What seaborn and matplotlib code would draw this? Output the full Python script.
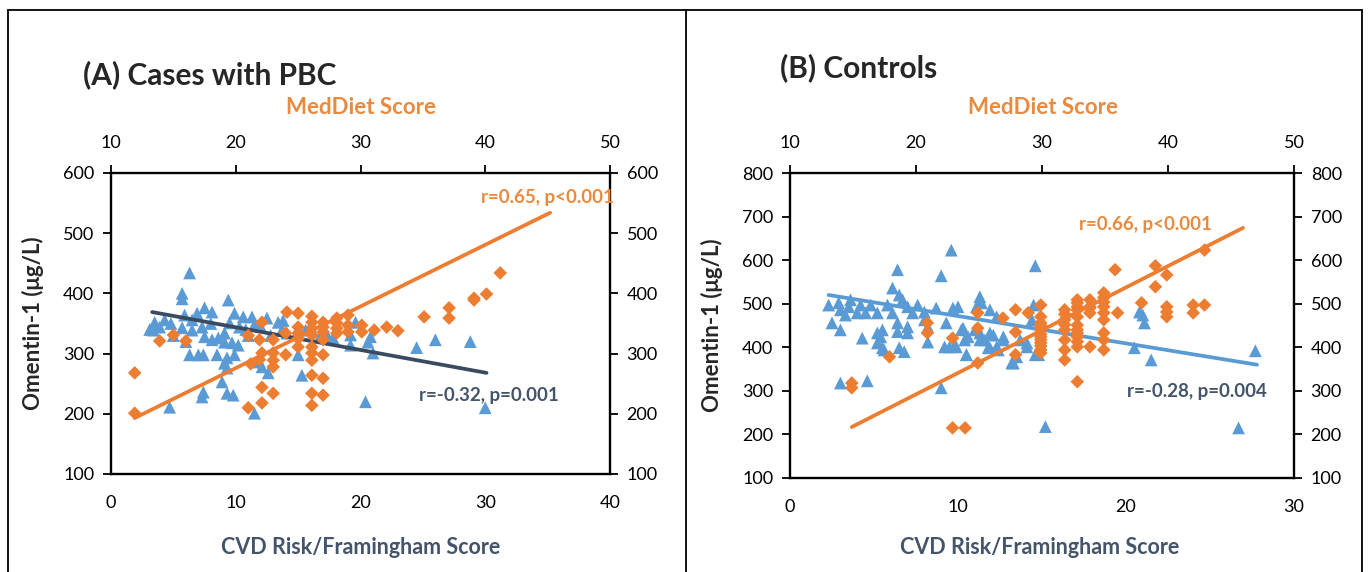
import numpy as np
import pandas as pd
import matplotlib
matplotlib.use("Agg")
import matplotlib.pyplot as plt
from matplotlib.lines import Line2D
import seaborn as sns

# ---------------- data ----------------
# Panel A (cases with PBC)
a_cvd = [3.4, 3.5, 3.9, 4.3, 3.1, 4.7, 5.7, 5.7, 5.7, 5.9, 6.3, 6.5, 6.5, 6.9, 7.3, 6.3, 7.0, 7.4,
         7.5, 8.1, 7.5, 8.1, 8.6, 9.1, 7.4, 7.3, 8.5, 8.9, 9.3, 9.9, 9.1, 9.3, 9.3, 9.8, 9.4, 9.9,
         10.6, 11.3, 9.5, 10.3, 9.7, 10.2, 9.1, 11.5, 12.6, 12.5, 13.4, 13.7, 12.1, 11.9, 13.8, 14.1,
         14.9, 15.6, 15.0, 15.3, 16.8, 17.4, 17.8, 19.2, 19.2, 19.6, 20.6, 20.8, 21.0, 20.4, 24.5,
         26.0, 28.8, 30.0, 11.0, 10.8, 12.0, 6.0, 8.0, 5.0, 4.8, 11.5, 12.8, 16.0]
a_om_cvd = [339, 352, 344, 356, 340, 211, 400, 391, 343, 364, 434, 356, 339, 367, 344, 298, 298, 298,
            376, 369, 328, 323, 326, 334, 236, 228, 298, 253, 293, 298, 284, 276, 234, 231, 389, 367,
            361, 361, 351, 344, 318, 314, 319, 201, 268, 359, 352, 339, 278, 286, 355, 334,
            334, 339, 298, 264, 331, 328, 326, 314, 331, 352, 319, 328, 301, 220, 310,
            323, 320, 210, 330, 340, 345, 320, 350, 330, 350, 348, 330, 345]
a_med = [11.9, 11.9, 13.9, 15.0, 16.0, 21.0, 22.1, 21.9, 22.1, 21.9, 21.2, 23.0, 23.0, 23.0, 23.0,
         22.1, 23.0, 22.1, 21.0, 24.1, 24.0, 24.0, 25.0, 25.0, 25.0, 25.0, 25.0,
         26.1, 26.1, 26.1, 26.1, 26.1, 26.1, 26.1, 26.1, 26.1, 26.1,
         27.0, 27.0, 27.0, 27.0, 27.0, 27.0, 27.0, 28.1, 28.1, 28.1, 28.1,
         29.0, 29.0, 29.0, 30.1, 30.1, 31.1, 32.1, 33.0, 35.1, 37.1, 37.1, 39.1, 39.1, 40.1, 41.2]
a_om_med = [268, 201, 321, 331, 321, 330, 352, 323, 301, 290, 283, 323, 301, 289, 278,
            244, 234, 218, 210, 369, 334, 298, 367, 344, 334, 311, 325,
            362, 352, 342, 331, 311, 301, 289, 264, 234, 214,
            352, 344, 336, 323, 298, 259, 231, 359, 351, 342, 334,
            364, 347, 336, 347, 336, 339, 344, 338, 361, 376, 359, 392, 389, 399, 434]
a_fit_cvd_x = [3.3, 30.1]
a_fit_cvd_y = [369, 268]
a_fit_med_x = [11.9, 45.2]
a_fit_med_y = [193, 534]

# Panel B (controls)
b_cvd = [2.3, 2.9, 3.0, 3.6, 3.5, 4.2, 4.8, 4.5, 4.0, 3.3, 2.5, 3.0, 4.3,
         5.2, 5.8, 6.1, 6.7, 7.0, 7.3, 7.6, 5.2, 5.4, 5.5, 5.2, 5.5, 5.6,
         6.4, 6.4, 7.0, 7.0, 6.5, 6.8, 8.0, 8.0, 8.2, 8.2, 8.7, 9.3, 9.2, 9.5, 9.8, 9.0,
         9.7, 10.0, 10.2, 10.4, 10.5, 11.1, 11.3, 11.4, 11.3, 11.3, 11.9, 11.9, 11.9, 12.3, 12.3,
         12.7, 13.3, 13.5, 14.1, 14.4, 14.5, 14.6, 3.0, 4.6, 15.2,
         9.6, 14.6, 6.4, 9.0, 6.1, 6.5, 20.5, 20.8, 21.0, 21.1, 21.5, 26.7, 27.7,
         10.3, 10.6, 11.0, 11.6, 12.1, 12.7, 9.9, 10.5, 11.8, 12.4, 13.2, 13.7, 14.1, 14.8]
b_om_cvd = [497, 502, 486, 509, 493, 497, 497, 479, 479, 474, 456, 440, 421,
            479, 497, 479, 509, 493, 479, 497, 433, 424, 440, 410, 399, 394,
            456, 436, 447, 433, 399, 390, 481, 463, 447, 412, 490, 456, 401, 401, 405, 307,
            490, 493, 440, 417, 383, 493, 516, 502, 433, 417, 486, 433, 399, 470, 401,
            417, 364, 378, 410, 463, 497, 383, 318, 323, 218,
            623, 587, 578, 564, 536, 520, 399, 481, 474, 456, 371, 215, 392,
            444, 424, 440, 417, 428, 424, 401, 383, 399, 394, 364, 417, 401, 383]
b_med = [14.9, 14.9, 17.9, 20.9, 20.9, 22.9, 22.9, 23.9, 24.9, 24.9, 24.9, 26.9,
         27.9, 27.9, 27.9, 28.9,
         29.9, 29.9, 29.9, 29.9, 29.9, 29.9, 29.9, 29.9, 29.9, 29.9, 29.9, 29.9,
         31.8, 31.8, 31.8, 31.8, 31.8, 31.8, 31.8, 31.8,
         32.8, 32.8, 32.8, 32.8, 32.8, 32.8, 32.8, 32.8, 32.8, 32.8, 32.8, 32.8,
         33.8, 33.8, 33.8, 33.8, 33.8,
         34.9, 34.9, 34.9, 34.9, 34.9, 34.9, 34.9, 34.9, 34.9,
         35.8, 36.0, 37.9, 39.0, 39.0, 39.9, 39.9, 39.9, 39.9, 42.0, 42.0, 42.9, 42.9]
b_om_med = [318, 307, 378, 456, 433, 421, 215, 215, 479, 444, 364, 467,
            486, 435, 383, 479,
            497, 456, 440, 424, 410, 394, 387, 470, 450, 430, 417, 403,
            486, 463, 440, 417, 394, 371, 476, 452,
            509, 502, 493, 486, 470, 451, 440, 433, 424, 413, 401, 321,
            509, 493, 479, 401, 490,
            525, 504, 493, 479, 463, 433, 417, 394, 514,
            578, 479, 502, 587, 539, 566, 493, 481, 470, 497, 479, 623, 497]
b_fit_cvd_x = [2.3, 27.8]
b_fit_cvd_y = [520, 360]
b_fit_med_x = [14.9, 45.95]
b_fit_med_y = [217, 674]

x_bottom_ticks_a = [0, 10, 20, 30, 40]
x_bottom_ticks_b = [0, 10, 20, 30]
x_top_ticks = [10, 20, 30, 40, 50]
y_ticks_a = [100, 200, 300, 400, 500, 600]
y_ticks_b = [100, 200, 300, 400, 500, 600, 700, 800]

# ---------------- style ----------------
sns.set_style("white")
plt.rcParams['font.family'] = ['Lato', 'DejaVu Sans']

BLUE = "#5B9BD5"
ORANGE = "#ED7D31"
ORANGE_TXT = "#E98A3E"
SLATE = "#44546A"
DARKLINE = "#3A4A60"
TICK_FS = 13

W, H = 1370, 572
fig = plt.figure(figsize=(W / 100, H / 100), dpi=100)


def rect(l, r, t, b):
    return [l / W, 1 - b / H, (r - l) / W, (b - t) / H]


def panel(r, cvd, om1, med, om2, fx1, fy1, fx2, fy2, xlim_b, xticks_b, ylim, yticks, line1_color,
          txt_pos_o, txt_o, txt_pos_b, txt_b):
    ax = fig.add_axes(r)
    ax2 = fig.add_axes(r, frameon=False)
    sns.scatterplot(x=cvd, y=om1, ax=ax, marker='^', color=BLUE, s=85, edgecolor='none', zorder=3)
    sns.lineplot(x=fx1, y=fy1, ax=ax, color=line1_color, lw=2.7, zorder=4)
    sns.scatterplot(x=med, y=om2, ax=ax2, marker='D', color=ORANGE, s=48, edgecolor='none', zorder=3)
    sns.lineplot(x=fx2, y=fy2, ax=ax2, color=ORANGE, lw=2.7, zorder=4)

    ax.set_xlim(*xlim_b)
    ax.set_ylim(*ylim)
    ax.set_xticks(xticks_b)
    ax.set_yticks(yticks)
    ax2.set_xlim(10, 50)
    ax2.set_ylim(*ylim)
    ax2.set_xticks(x_top_ticks)
    ax2.set_yticks(yticks)
    ax2.xaxis.set_ticks_position('top')
    ax2.yaxis.set_ticks_position('right')
    ax2.xaxis.set_label_position('top')
    ax2.yaxis.set_label_position('right')
    for a in (ax, ax2):
        a.set_xlabel('')
        a.set_ylabel('')
        a.grid(False)
    for s in ax.spines.values():
        s.set_color('black')
        s.set_linewidth(1.7)
    ax.tick_params(axis='y', left=True, direction='out', length=6, width=1.3, pad=6,
                   labelsize=TICK_FS, colors='black')
    ax.tick_params(axis='x', bottom=True, length=0, pad=15, labelsize=TICK_FS, colors='black')
    ax2.tick_params(axis='x', top=True, bottom=False, labeltop=True, labelbottom=False,
                    direction='out', length=6, width=1.3, pad=10, labelsize=TICK_FS, colors='black')
    ax2.tick_params(axis='y', right=True, left=False, labelright=True, labelleft=False,
                    direction='out', length=6, width=1.3, pad=6, labelsize=TICK_FS, colors='black')
    ax.patch.set_alpha(0)
    ax2.text(txt_pos_o[0], txt_pos_o[1], txt_o, color=ORANGE_TXT, fontsize=13.5,
             fontweight='bold', ha='center', va='center', transform=ax2.transData)
    ax.text(txt_pos_b[0], txt_pos_b[1], txt_b, color=SLATE, fontsize=13.5,
            fontweight='bold', ha='center', va='center', transform=ax.transData)
    return ax, ax2


panel(rect(111, 610, 173, 474), a_cvd, a_om_cvd, a_med, a_om_med,
      a_fit_cvd_x, a_fit_cvd_y, a_fit_med_x, a_fit_med_y,
      (0, 40), x_bottom_ticks_a, (100, 600), y_ticks_a, DARKLINE,
      (45.0, 560), "r=0.65, p<0.001", (30.3, 231), "r=-0.32, p=0.001")

panel(rect(790, 1294, 173, 478), b_cvd, b_om_cvd, b_med, b_om_med,
      b_fit_cvd_x, b_fit_cvd_y, b_fit_med_x, b_fit_med_y,
      (0, 30), x_bottom_ticks_b, (100, 800), y_ticks_b, BLUE,
      (38.2, 681), "r=0.66, p<0.001", (24.2, 298), "r=-0.28, p=0.004")

# figure texts
def ftext(px, py, s, **kw):
    fig.text(px / W, 1 - py / H, s, **kw)

ftext(83, 75, "(A) Cases with PBC", fontsize=21.5, fontweight='bold', ha='left', va='center')
ftext(780, 68, "(B) Controls", fontsize=21.5, fontweight='bold', ha='left', va='center')
ftext(361, 108, "MedDiet Score", fontsize=16, fontweight='bold', color=ORANGE_TXT, ha='center', va='center')
ftext(1043, 108, "MedDiet Score", fontsize=16, fontweight='bold', color=ORANGE_TXT, ha='center', va='center')
ftext(361, 548, "CVD Risk/Framingham Score", fontsize=15.5, fontweight='bold', color=SLATE, ha='center', va='center')
ftext(1040, 547, "CVD Risk/Framingham Score", fontsize=15.5, fontweight='bold', color=SLATE, ha='center', va='center')
ftext(33, 323, "Omentin-1 (μg/L)", fontsize=16, fontweight='bold', rotation=90, ha='center', va='center')
ftext(712, 325, "Omentin-1 (μg/L)", fontsize=16, fontweight='bold', rotation=90, ha='center', va='center')

# outer frame and divider
def fline(x0, y0, x1, y1):
    fig.add_artist(Line2D([x0 / W, x1 / W], [1 - y0 / H, 1 - y1 / H], color='black', lw=1.3,
                          transform=fig.transFigure))

fline(8, 10, 1362, 10)
fline(8, 10, 8, 572)
fline(1362, 10, 1362, 572)
fline(686, 10, 686, 572)

fig.savefig("out.png", dpi=100)
